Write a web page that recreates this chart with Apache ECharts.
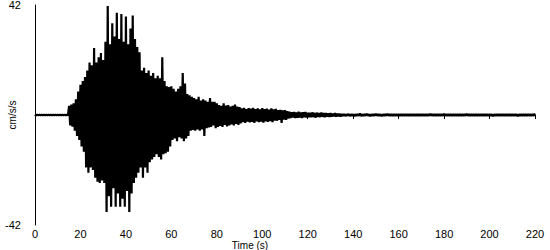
<!DOCTYPE html>
<html>
<head>
<meta charset="utf-8">
<script src="https://cdn.jsdelivr.net/npm/echarts@6/dist/echarts.min.js"></script>
<style>html,body{margin:0;padding:0;background:#fff}#c{width:550px;height:250px}</style>
</head>
<body>
<div id="c"></div>
<script>
// Peak positive / negative acceleration (cm/s/s) read per second, t = 0..220 s
const peakPos = [
  0.1,0.1,0.1,0.1,0.1,0.1,0.1,0.1,0.1,0.1,0.1,0.1,0.1,0.1,0.1,
  3.5,4,4.5,6,9,11.5,13,14.5,17,20,19,25.6,20,22,23.7,21,
  28,41.6,27,35,30,39,29,38.6,28,37.6,27,33,38,29,26,
  24,17,18,16,17,15,16,14,15,14,22,13,11,10.7,11,
  10,9,10,11,16,12,8,7.5,7,6.5,6,7,5.5,6,5.5,
  5,6.5,5,5,4.5,3.8,3.5,4.5,3.6,3.8,3.2,3.5,4,3.2,3,
  2.5,2.7,2.3,2.6,2.4,2.7,2.3,2.5,2.2,2.6,2.3,2.4,2.1,2.5,2.2,
  2.3,1.9,2,1.8,1.9,1.5,1.3,1.1,1.2,1.0,1.3,1.0,1.1,1.2,0.9,
  0.9,1.0,0.8,0.9,0.7,0.9,0.7,0.7,0.6,0.7,0.5,0.7,0.5,0.5,0.4,
  0.4,0.3,0.4,0.3,0.3,0.3,0.3,0.6,0.3,0.3,
  0.4,0.3,0.3,0.3,0.5,0.3,0.3,0.3,0.3,0.4,
  0.3,0.3,0.3,0.3,0.3,0.3,0.3,0.3,0.3,0.3,
  0.3,0.3,0.3,0.3,0.3,0.3,0.3,0.3,0.5,0.3,
  0.3,0.3,0.3,0.3,0.5,0.3,0.3,0.3,0.3,0.3,
  0.3,0.3,0.3,0.3,0.5,0.3,0.3,0.3,0.3,0.3,
  0.3,0.3,0.3,0.3,0.3,0.3,0.3,0.3,0.3,0.3,
  0.3,0.3,0.3,0.3,0.3,0.3,0.3,0.3,0.3,0.3,
  0.3,0.3,0.3,0.3,0.6
];
const peakNeg = [
  -0.1,-0.1,-0.1,-0.1,-0.1,-0.1,-0.1,-0.1,-0.1,-0.1,-0.1,-0.1,-0.1,-0.1,-0.1,
  -4,-4.5,-6,-8,-9.5,-12,-14,-20,-22,-20,-21,-24,-25.5,-26,-25,-26,
  -37,-31,-35,-28,-35,-30,-35,-32,-35,-29,-37,-30,-26,-24,-22,
  -20,-24,-20,-22,-18,-17,-16,-15,-16,-17,-15,-14.6,-14,-12,-9.5,
  -9,-10,-8.5,-9,-10,-9,-8,-6,-5.7,-6,-5.5,-6,-5.5,-8,-5,
  -4.8,-4.6,-4,-5,-4.6,-4.2,-4.6,-3.8,-4.4,-4,-3.6,-4,-3.4,-3.8,-3.2,
  -2.7,-3,-2.5,-2.8,-2.6,-3,-2.4,-2.7,-2.5,-2.9,-2.4,-2.6,-2.3,-2.7,-2.2,
  -2.2,-1.9,-3,-1.8,-1.9,-1.4,-1.2,-1.0,-1.2,-1.1,-1.0,-1.2,-0.9,-1.0,-0.9,
  -0.9,-0.8,-1.0,-0.7,-0.8,-0.7,-0.8,-0.6,-0.7,-0.6,-0.5,-0.6,-0.5,-0.6,-0.4,
  -0.4,-0.3,-0.4,-0.3,-0.5,-0.3,-0.3,-0.4,-0.3,-0.3,
  -0.3,-0.4,-0.3,-0.3,-0.3,-0.3,-0.5,-0.3,-0.3,-0.3,
  -0.3,-0.3,-0.3,-0.3,-0.3,-0.3,-0.3,-0.3,-0.3,-0.3,
  -0.3,-0.3,-0.3,-0.3,-0.3,-0.3,-0.3,-0.3,-0.3,-0.3,
  -0.3,-0.3,-0.3,-0.3,-0.3,-0.3,-0.3,-0.3,-0.3,-0.3,
  -0.3,-0.3,-0.3,-0.3,-0.3,-0.3,-0.3,-0.3,-0.3,-0.3,
  -0.3,-0.3,-0.3,-0.3,-0.3,-0.5,-0.3,-0.3,-0.3,-0.3,
  -0.3,-0.3,-0.3,-0.3,-0.3,-0.3,-0.5,-0.3,-0.3,-0.3,
  -0.3,-0.3,-0.3,-0.3,-0.3
];
const xTicks = [0,20,40,60,80,100,120,140,160,180,200,220];
const yTicks = [-42, 42];
const xName = 'Time (s)';
const yName = 'cm/s/s';

const trace = [];
for (let i = 0; i < peakPos.length; i++) {
  trace.push([i, peakPos[i]]);
  if (i < peakPos.length - 1) trace.push([i + 0.5, peakNeg[i]]);
}

const font = '"Liberation Sans", Arial, sans-serif';
const chart = echarts.init(document.getElementById('c'), null, {renderer: 'svg'});
chart.setOption({
  animation: false,
  backgroundColor: '#fff',
  grid: {left: 35, right: 15, top: 5, bottom: 25, containLabel: false, outerBoundsMode: 'none'},
  xAxis: {
    type: 'value', min: xTicks[0], max: xTicks[xTicks.length - 1], interval: 20,
    name: xName, nameLocation: 'middle', nameGap: 16, nameMoveOverlap: false,
    nameTextStyle: {color: '#000', fontFamily: font, fontSize: 10, lineHeight: 9, padding: [0, 70, 0, 0]},
    axisLine: {lineStyle: {color: '#000', width: 1}},
    axisTick: {show: true, length: 4, lineStyle: {color: '#000'}},
    axisLabel: {color: '#000', fontFamily: font, fontSize: 11, margin: 3, lineHeight: 11},
    splitLine: {show: false}
  },
  yAxis: {
    type: 'value', min: yTicks[0], max: yTicks[1], interval: 42,
    name: yName, nameLocation: 'middle', nameGap: 18, nameMoveOverlap: false,
    nameTextStyle: {color: '#000', fontFamily: font, fontSize: 10},
    axisLine: {show: true, lineStyle: {color: '#000', width: 1}},
    axisTick: {show: false},
    axisLabel: {color: '#000', fontFamily: font, fontSize: 11, margin: 14,
      formatter: v => (yTicks.indexOf(v) >= 0 ? String(v) : '')},
    splitLine: {show: false}
  },
  series: [{
    type: 'line', data: trace, symbol: 'none', sampling: false,
    lineStyle: {color: '#000', width: 2.2, join: 'bevel'}, silent: true
  }]
});
</script>
</body>
</html>
